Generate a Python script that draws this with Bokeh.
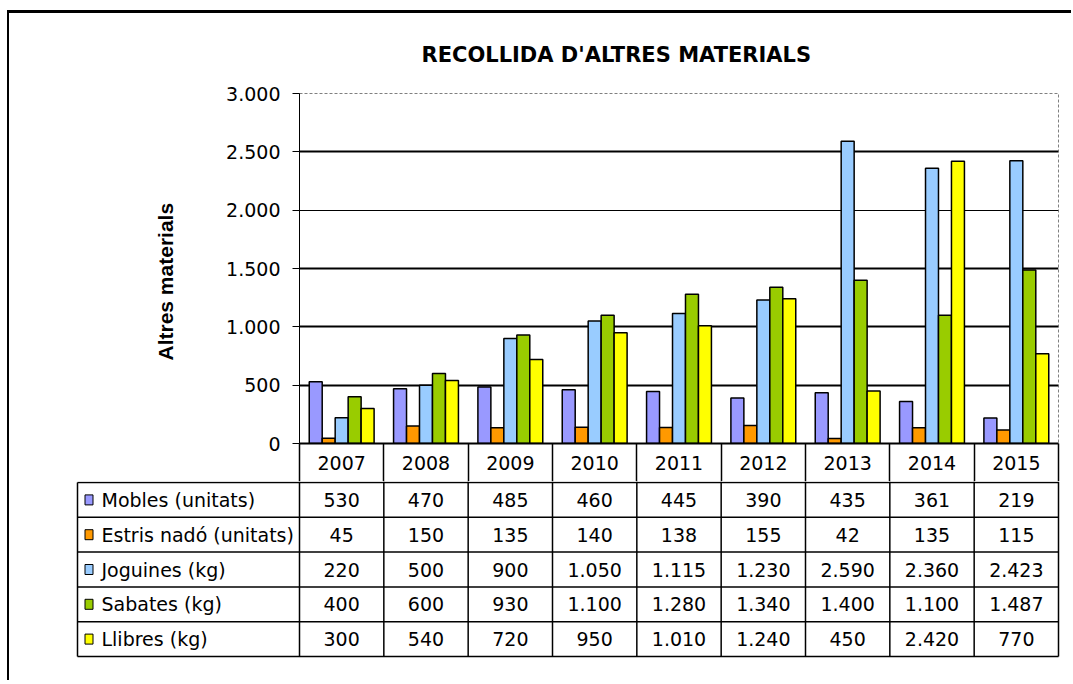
from bokeh.plotting import figure
from bokeh.models import (ColumnDataSource, Range1d, FixedTicker, Grid, Title,
                          CustomJSTickFormatter)
from bokeh.transform import dodge
from bokeh.layouts import column
from bokeh.core.properties import value
from bokeh.embed import file_html
from bokeh.resources import INLINE

# ---------------- data ----------------
years = ["2007", "2008", "2009", "2010", "2011", "2012", "2013", "2014", "2015"]
series_names = ["Mobles (unitats)", "Estris nadó (unitats)", "Joguines (kg)",
                "Sabates (kg)", "Llibres (kg)"]
mobles = [530, 470, 485, 460, 445, 390, 435, 361, 219]
estris = [45, 150, 135, 140, 138, 155, 42, 135, 115]
joguines = [220, 500, 900, 1050, 1115, 1230, 2590, 2360, 2423]
sabates = [400, 600, 930, 1100, 1280, 1340, 1400, 1100, 1487]
llibres = [300, 540, 720, 950, 1010, 1240, 450, 2420, 770]
y_ticks = [0, 500, 1000, 1500, 2000, 2500, 3000]
title_text = "RECOLLIDA D'ALTRES MATERIALS"
y_label = "Altres materials"

# ---------------- styles ----------------
colors = ["#9999FF", "#FF9900", "#99CCFF", "#99CC00", "#FFFF00"]
series = [mobles, estris, joguines, sabates, llibres]
keys = ["mobles", "estris", "joguines", "sabates", "llibres"]
FONT = "DejaVu Sans"

W = 1062
ORIGIN_X, ORIGIN_Y = 9, 13            # page px where the figures start
FRAME_L, FRAME_R = 299, 1058          # page px of plot frame
FRAME_T, FRAME_B = 93, 443
HEADER_B = 481                        # bottom of the year header row
N = len(years)
PX_PER_CAT = (FRAME_R - FRAME_L) / N

def fmt(v):
    return f"{v:,}".replace(",", ".")

# ---------------- chart ----------------
centers = [i + 0.5 for i in range(N)]
src = ColumnDataSource(dict(xc=centers, mobles=mobles, estris=estris,
                            joguines=joguines, sabates=sabates, llibres=llibres))

p1 = figure(width=W, height=HEADER_B - ORIGIN_Y, x_range=Range1d(0, N),
            y_range=Range1d(0, 3000), output_backend="svg", toolbar_location=None,
            min_border_left=FRAME_L - ORIGIN_X, min_border_right=ORIGIN_X + W - FRAME_R,
            min_border_top=FRAME_T - ORIGIN_Y, min_border_bottom=HEADER_B - FRAME_B)
p1.frame_align = False
p1.background_fill_color = "white"
p1.border_fill_color = "white"
p1.outline_line_color = "#808080"
p1.outline_line_dash = "3 2"
p1.outline_line_width = 1

bw = 1 / 6.5
for i, (k, c) in enumerate(zip(keys, colors)):
    p1.vbar(x=dodge("xc", (i - 2) * bw), top=k, width=bw,
            source=src, fill_color=c, line_color="black", line_width=1.5)

p1.xgrid.visible = False
p1.ygrid.visible = False
p1.add_layout(Grid(dimension=1, ticker=FixedTicker(ticks=[500, 1000, 1500, 2500]),
                   grid_line_color="black", grid_line_width=2))
p1.add_layout(Grid(dimension=1, ticker=FixedTicker(ticks=[2000]),
                   grid_line_color="black", grid_line_width=1))

ya = p1.yaxis[0]
ya.ticker = FixedTicker(ticks=y_ticks)
ya.formatter = CustomJSTickFormatter(code="""
    if (tick >= 1000) { return Math.floor(tick/1000) + '.' + String(tick % 1000).padStart(3, '0'); }
    return String(tick);""")
ya.major_label_text_font = FONT
ya.major_label_text_font_size = "19px"
ya.major_label_text_color = "black"
ya.major_tick_out = 7
ya.major_tick_in = 0
ya.minor_tick_line_color = None
ya.major_label_standoff = 12
ya.axis_line_color = "black"
ya.axis_line_width = 1

# category axis = header row of the data table
sep_len = HEADER_B - FRAME_B
xa = p1.xaxis[0]
xa.ticker = FixedTicker(ticks=centers, minor_ticks=list(range(N + 1)))
xa.formatter = CustomJSTickFormatter(args=dict(years=years),
                                     code="return years[Math.floor(tick)];")
xa.major_tick_line_color = None
xa.major_tick_out = 0
xa.major_tick_in = 0
xa.minor_tick_out = sep_len
xa.minor_tick_in = 0
xa.minor_tick_line_color = "black"
xa.minor_tick_line_width = 1.5
xa.axis_line_color = "black"
xa.axis_line_width = 2
xa.major_label_text_font = FONT
xa.major_label_text_font_size = "19px"
xa.major_label_text_color = "black"
xa.major_label_standoff = 12 - sep_len

p1.title.text = title_text
p1.title.text_font = FONT
p1.title.text_font_size = "21px"
p1.title.text_font_style = "bold"
p1.title.text_color = "black"
p1.title.align = "left"
p1.title.offset = 122
p1.title.standoff = 53

ylab = Title(text=y_label, align="left", offset=83, standoff=94, text_color="black",
             text_font="Liberation Sans", text_font_size="21px", text_font_style="bold")
p1.add_layout(ylab, "left")

# ---------------- data table ----------------
T_L, T_R = 75, 1060        # page px of table figure frame
T_TOP = HEADER_B - 1       # page y where the table figure starts
x_start = (T_L - FRAME_L) / PX_PER_CAT
x_end = N + (T_R - FRAME_R) / PX_PER_CAT
legend_left = (77 - FRAME_L) / PX_PER_CAT

row_h = 34.8
n_rows = len(series)
top_line = HEADER_B - T_TOP
bottom = top_line + row_h * n_rows
frame_h = int(bottom) + 2

p2 = figure(width=W, height=frame_h + 2, x_range=Range1d(x_start, x_end),
            y_range=Range1d(frame_h, 0),
            x_axis_type=None, y_axis_type=None, output_backend="svg", toolbar_location=None,
            min_border_left=T_L - ORIGIN_X, min_border_right=ORIGIN_X + W - T_R,
            min_border_top=0, min_border_bottom=2)
p2.frame_align = False
p2.outline_line_color = None
p2.background_fill_color = "white"
p2.border_fill_color = "white"

# horizontal lines
hy = [top_line + row_h * r for r in range(n_rows + 1)]
p2.segment(x0=[legend_left] * len(hy), x1=[N] * len(hy), y0=hy, y1=hy,
           line_color="black", line_width=1.5)
# vertical lines for category columns
vx = list(range(N + 1))
p2.segment(x0=vx, x1=vx, y0=[0] * len(vx), y1=[bottom] * len(vx),
           line_color="black", line_width=1.5)
# legend column left border
p2.segment(x0=[legend_left], x1=[legend_left], y0=[top_line], y1=[bottom],
           line_color="black", line_width=1.5)

# values
row_c = [top_line + row_h * (r + 0.5) for r in range(n_rows)]
vx_all, vy_all, vt_all = [], [], []
for r, s in enumerate(series):
    for i, v in enumerate(s):
        vx_all.append(centers[i])
        vy_all.append(row_c[r])
        vt_all.append(fmt(v))
p2.text(x=vx_all, y=vy_all, text=vt_all, text_align="center", text_baseline="middle",
        text_font=value(FONT), text_font_size="19px", text_color="black")

# legend keys and names
key_x = (88.5 - FRAME_L) / PX_PER_CAT
txt_x = (101 - FRAME_L) / PX_PER_CAT
p2.rect(x=[key_x] * n_rows, y=row_c, width=8, height=10, width_units="screen",
        height_units="screen", fill_color=colors, line_color="black", line_width=1)
p2.text(x=[txt_x] * n_rows, y=row_c, text=series_names, text_align="left",
        text_baseline="middle", text_font=value(FONT), text_font_size="19px",
        text_color="black")

layout = column(p1, p2, styles={"margin-top": "10px", "margin-left": "7px",
                                "padding-bottom": "20px",
                                "border-top": "3px solid black",
                                "border-left": "2px solid black"})

open("out.html", "w").write(file_html(layout, INLINE))
